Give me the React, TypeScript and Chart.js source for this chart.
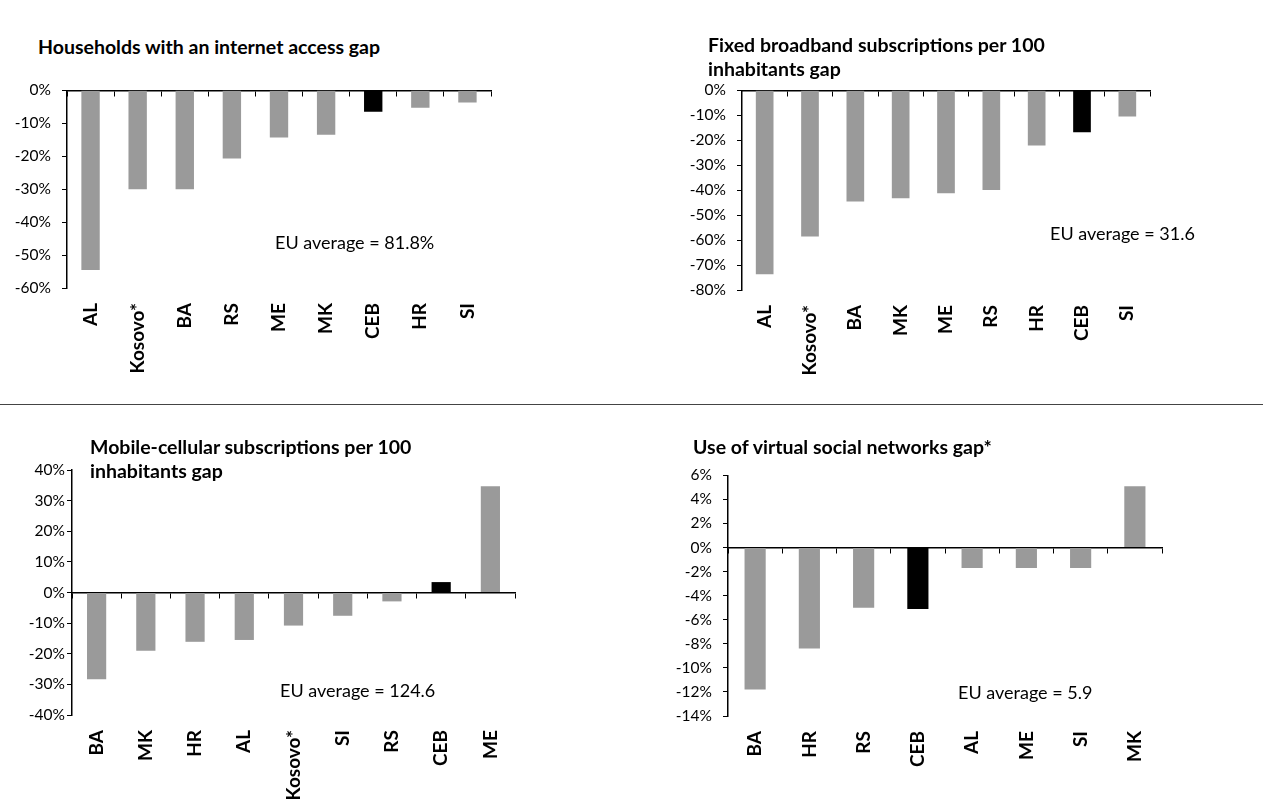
import React, { useEffect, useRef } from "react";
import { Chart, registerables } from "chart.js";

Chart.register(...registerables);

// data (gap to EU average, in %)
const internetLabels = ["AL", "Kosovo*", "BA", "RS", "ME", "MK", "CEB", "HR", "SI"];
const internetGap = [-54.5, -30, -30, -20.7, -14.3, -13.5, -6.5, -5.3, -3.7];

const broadbandLabels = ["AL", "Kosovo*", "BA", "MK", "ME", "RS", "HR", "CEB", "SI"];
const broadbandGap = [-73.7, -58.6, -44.5, -43.2, -41.2, -39.9, -22.1, -16.8, -10.5];

const mobileLabels = ["BA", "MK", "HR", "AL", "Kosovo*", "SI", "RS", "CEB", "ME"];
const mobileGap = [-28.3, -19, -16.1, -15.5, -10.8, -7.6, -2.9, 3.4, 34.7];

const socialLabels = ["BA", "HR", "RS", "CEB", "AL", "ME", "SI", "MK"];
const socialGap = [-11.8, -8.4, -5, -5.1, -1.7, -1.7, -1.7, 5.1];

const FONT = "Lato, 'Open Sans', 'DejaVu Sans', sans-serif";
const GRAY = "#9a9a9a";

interface Rect {
  left: number;
  top: number;
  width: number;
  height: number;
}

interface Area {
  left: number;
  top: number;
  right: number;
  bottom: number;
}

interface GapChartProps {
  labels: string[];
  values: number[];
  min: number;
  max: number;
  step: number;
  box: Rect;
  area: Area;
  labelPad?: number;
}

const GapChart: React.FC<GapChartProps> = ({ labels, values, min, max, step, box, area, labelPad = 11 }) => {
  const chartRef = useRef<HTMLCanvasElement | null>(null);

  useEffect(() => {
    if (!chartRef.current) return;
    const chart = new Chart(chartRef.current, {
      type: "bar",
      data: {
        labels,
        datasets: [
          {
            data: values,
            backgroundColor: labels.map((l) => (l === "CEB" ? "#000000" : GRAY)),
            barPercentage: 0.39,
            categoryPercentage: 1,
          },
        ],
      },
      options: {
        responsive: false,
        maintainAspectRatio: false,
        animation: false,
        layout: {
          padding: {
            top: area.top - box.top,
            right: box.left + box.width - area.right,
            left: 0,
            bottom: 0,
          },
        },
        plugins: {
          legend: { display: false },
          tooltip: { enabled: false },
        },
        scales: {
          x: {
            grid: { display: false, drawTicks: false },
            border: { display: false },
            ticks: {
              autoSkip: false,
              minRotation: 90,
              maxRotation: 90,
              padding: 15,
              color: "#000",
              font: { family: FONT, size: 19, weight: "bold" },
            },
            afterFit: (s: any) => {
              s.height = box.top + box.height - area.bottom;
            },
          },
          // axis line through zero, with the tick marks between categories
          x2: {
            axis: "x",
            type: "category",
            position: { y: 0 },
            offset: true,
            grid: { offset: true, drawOnChartArea: false, tickLength: 5, color: "#000" },
            border: { color: "#000", width: 1.5 },
            ticks: { display: false },
          },
          y: {
            min,
            max,
            ticks: {
              stepSize: step,
              padding: labelPad,
              color: "#000",
              font: { family: FONT, size: 15.5 },
              callback: (v: any) => v + "%",
            },
            grid: { drawOnChartArea: false, tickLength: 5, color: "#000" },
            border: { color: "#000", width: 1.5 },
            afterFit: (s: any) => {
              s.width = area.left - box.left;
            },
          },
        } as any,
      },
    });
    return () => chart.destroy();
  }, [labels, values]);

  return (
    <canvas
      ref={chartRef}
      width={box.width}
      height={box.height}
      style={{ position: "absolute", left: box.left, top: box.top, width: box.width, height: box.height }}
    />
  );
};

const titleStyle: React.CSSProperties = {
  position: "absolute",
  fontFamily: FONT,
  fontWeight: "bold",
  fontSize: 19.5,
  lineHeight: "24px",
  color: "#000",
  whiteSpace: "nowrap",
  zIndex: 2,
};

const noteStyle: React.CSSProperties = {
  position: "absolute",
  fontFamily: FONT,
  fontSize: 18,
  lineHeight: "20px",
  color: "#000",
  whiteSpace: "nowrap",
  zIndex: 2,
};

const App: React.FC = () => {
  return (
    <div
      style={{
        position: "absolute",
        left: 0,
        top: 0,
        width: 1263,
        height: 802,
        overflow: "hidden",
        background: "#fff",
      }}
    >
      <div style={{ ...titleStyle, left: 38, top: 35 }}>Households with an internet access gap</div>
      <div style={{ ...titleStyle, left: 708, top: 33 }}>
        Fixed broadband subscriptions per 100
        <br />
        inhabitants gap
      </div>
      <div style={{ ...titleStyle, left: 90, top: 435 }}>
        Mobile-cellular subscriptions per 100
        <br />
        inhabitants gap
      </div>
      <div style={{ ...titleStyle, left: 693, top: 435 }}>Use of virtual social networks gap*</div>

      <div style={{ ...noteStyle, left: 275, top: 232 }}>EU average = 81.8%</div>
      <div style={{ ...noteStyle, left: 1050, top: 223 }}>EU average = 31.6</div>
      <div style={{ ...noteStyle, left: 280, top: 680 }}>EU average = 124.6</div>
      <div style={{ ...noteStyle, left: 958, top: 682 }}>EU average = 5.9</div>

      <div style={{ position: "absolute", left: 0, top: 404, width: 1263, height: 1, background: "#444" }} />

      <GapChart
        labels={internetLabels}
        values={internetGap}
        min={-60}
        max={0}
        step={10}
        box={{ left: 0, top: 70, width: 520, height: 320 }}
        area={{ left: 67, top: 88, right: 491, bottom: 288 }}
      />
      <GapChart
        labels={broadbandLabels}
        values={broadbandGap}
        min={-80}
        max={0}
        step={10}
        box={{ left: 660, top: 70, width: 560, height: 320 }}
        area={{ left: 742, top: 88, right: 1150, bottom: 290 }}
      />
      <GapChart
        labels={mobileLabels}
        values={mobileGap}
        min={-40}
        max={40}
        step={10}
        box={{ left: 0, top: 455, width: 545, height: 347 }}
        area={{ left: 72, top: 470, right: 515, bottom: 715 }}
        labelPad={2}
      />
      <GapChart
        labels={socialLabels}
        values={socialGap}
        min={-14}
        max={6}
        step={2}
        box={{ left: 640, top: 455, width: 623, height: 347 }}
        area={{ left: 728, top: 475, right: 1162, bottom: 716 }}
      />
    </div>
  );
};

export default App;
